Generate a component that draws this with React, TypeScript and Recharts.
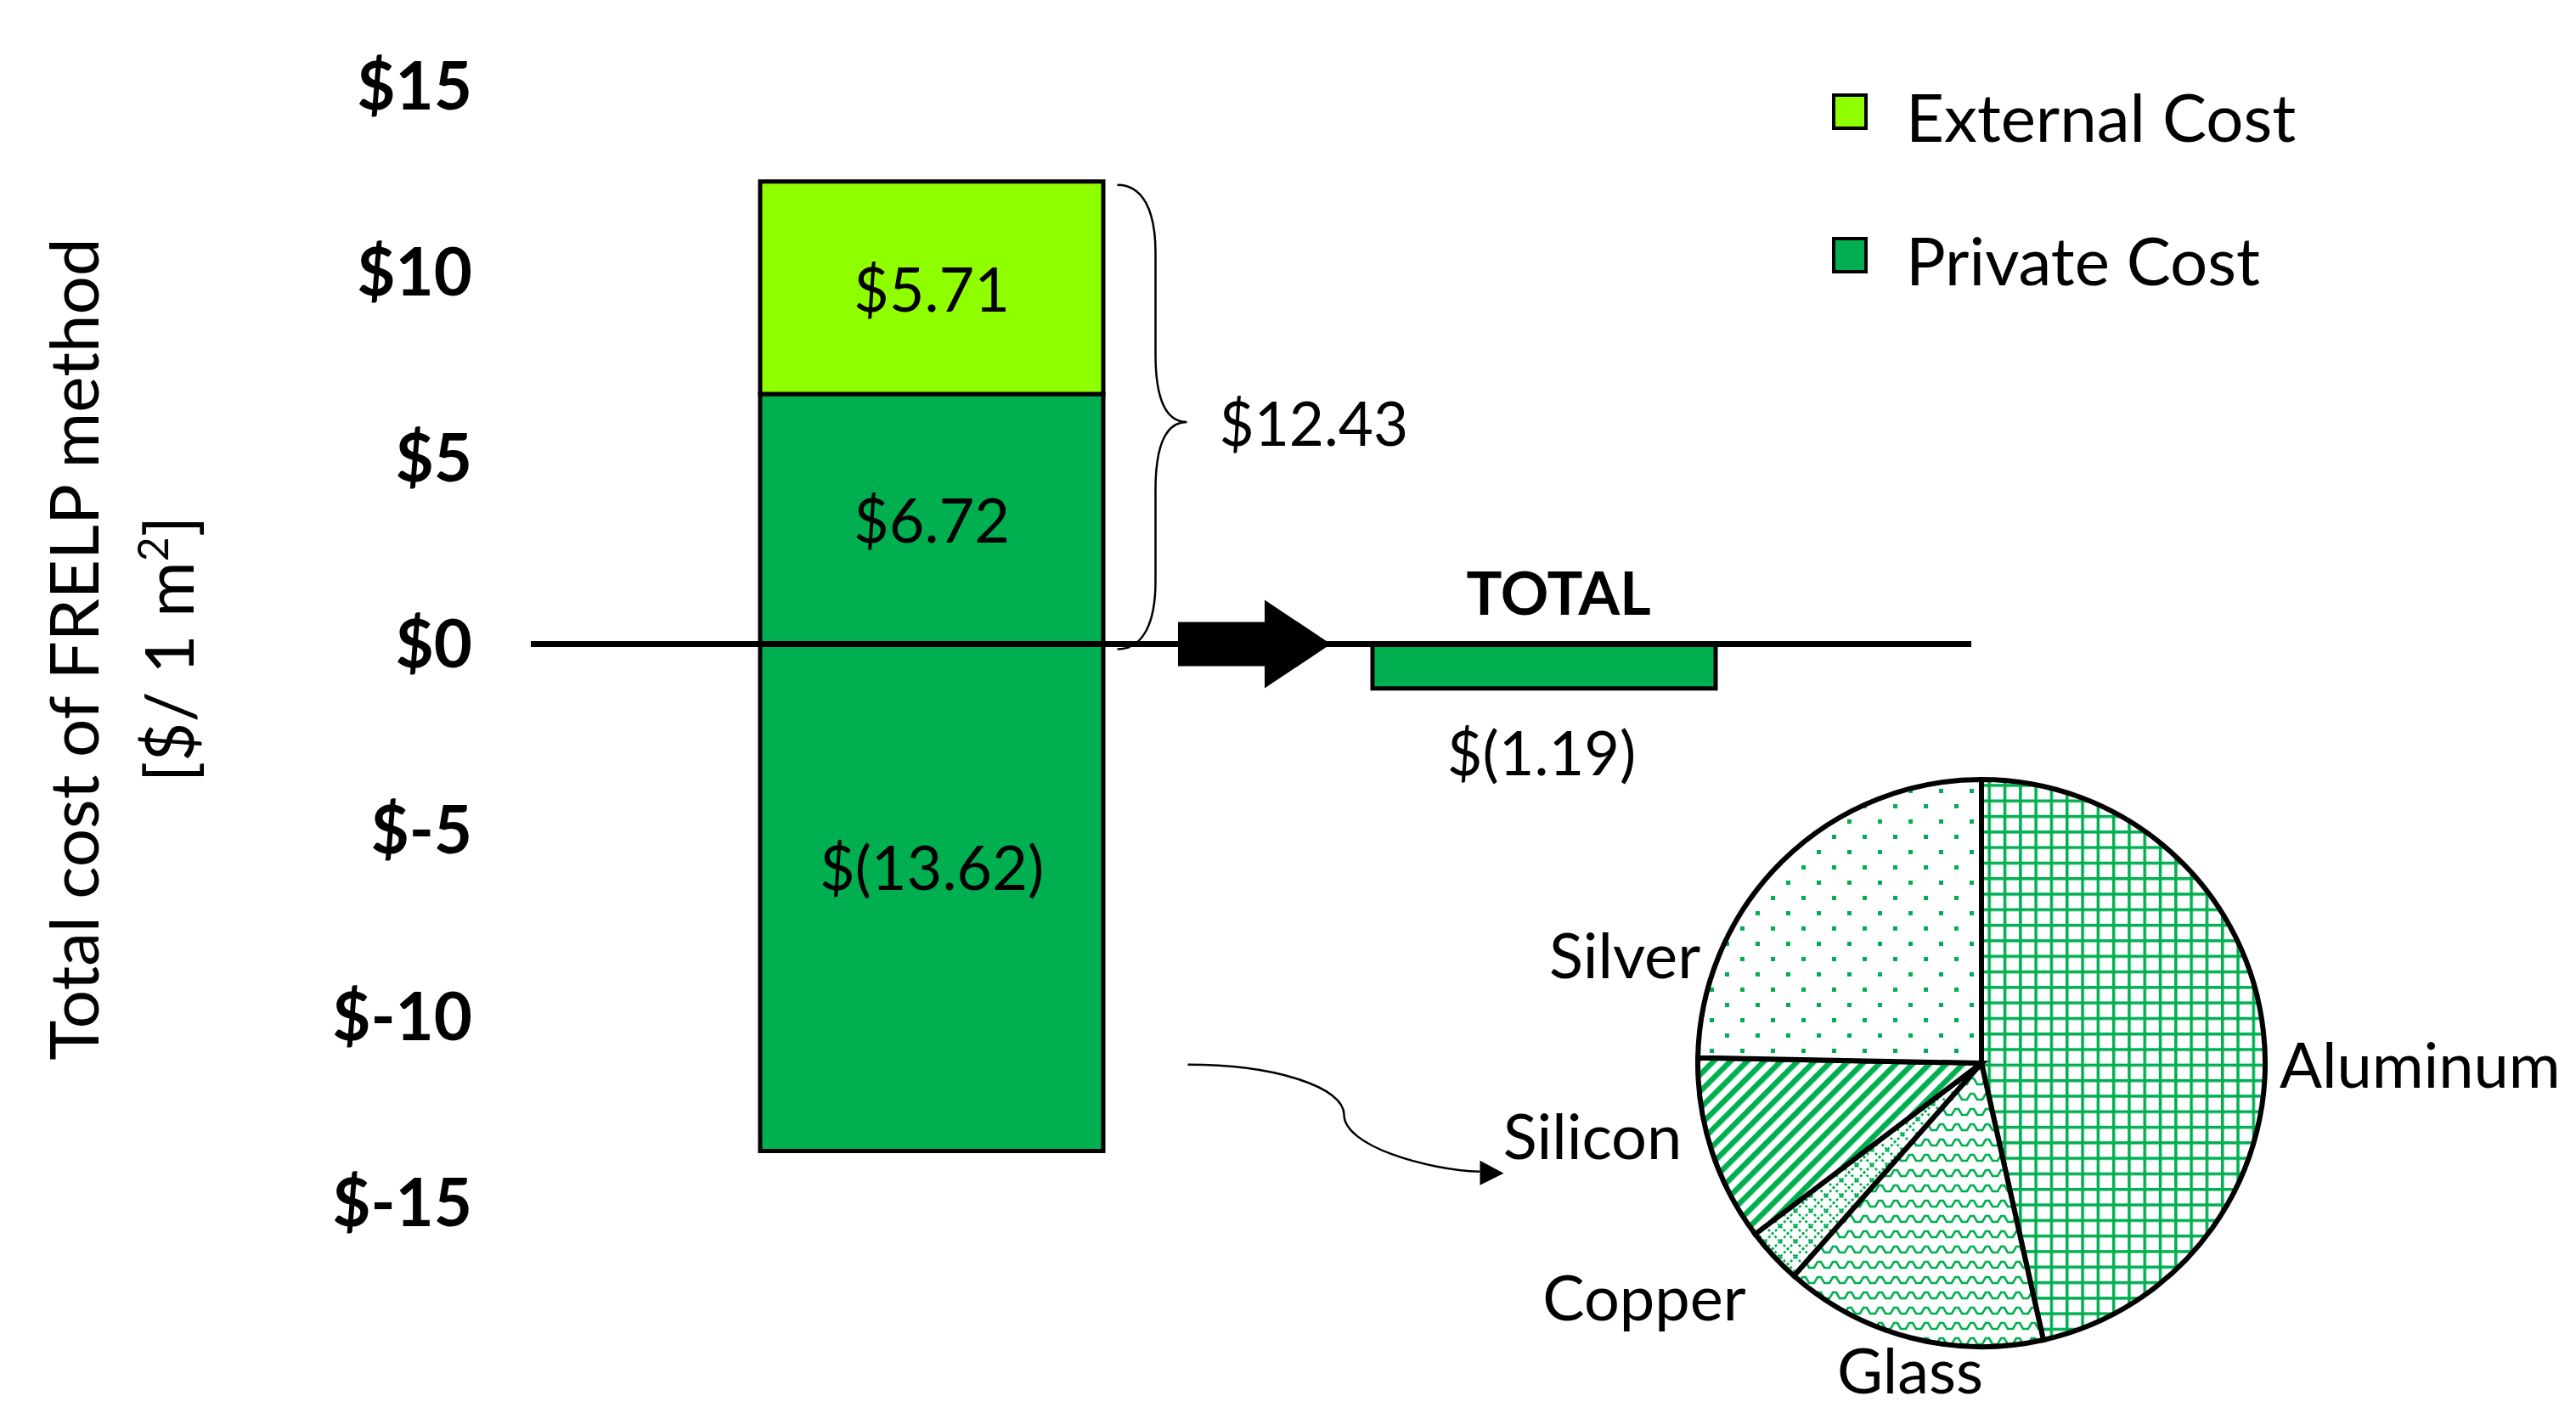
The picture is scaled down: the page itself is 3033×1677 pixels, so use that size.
import React from "react";
import {
  BarChart,
  Bar,
  XAxis,
  YAxis,
  Label,
  LabelList,
  Legend,
  ReferenceLine,
  ReferenceArea,
  PieChart,
  Pie,
  Cell,
} from "recharts";

// ─── Data ────────────────────────────────────────────────────────────────────

const CATEGORIES = ["FRELP", "TOTAL"];
const PRIVATE_COST = [6.72, 0];
const EXTERNAL_COST = [5.71, 0];
const PRIVATE_CREDIT = [-13.62, -1.19];
const Y_TICKS = [-15, -10, -5, 0, 5, 10, 15];
const LEGEND_ORDER = ["External Cost", "Private Cost"];

const MATERIALS = ["Aluminum", "Glass", "Copper", "Silicon", "Silver"];
const MATERIAL_SHARES = [46.5, 15.0, 3.2, 10.6, 24.7];
const MATERIAL_PATTERNS = ["patGrid", "patZigzag", "patLattice", "patStripes", "patDots"];

// ─── Style ───────────────────────────────────────────────────────────────────

const FONT = "Lato, 'Open Sans', sans-serif";
const GREEN = "#00B050";
const LIME = "#8FFF00";
const BAR_SIZE = 404;

// label spots around the pie, relative to its centre
const PIE_LABEL_POS: Record<string, { dx: number; dy: number; anchor: "start" | "middle" }> = {
  Aluminum: { dx: 351, dy: 0, anchor: "start" },
  Glass: { dx: -84, dy: 360, anchor: "middle" },
  Copper: { dx: -397, dy: 274, anchor: "middle" },
  Silicon: { dx: -458, dy: 84, anchor: "middle" },
  Silver: { dx: -420, dy: -129, anchor: "middle" },
};

const barData = CATEGORIES.map((name, i) => ({
  name,
  privateCost: PRIVATE_COST[i],
  externalCost: EXTERNAL_COST[i],
  privateCredit: PRIVATE_CREDIT[i],
}));

const pieData = MATERIALS.map((name, i) => ({ name, value: MATERIAL_SHARES[i] }));

const money = (v: number) => (v < 0 ? `$(${Math.abs(v).toFixed(2)})` : `$${v.toFixed(2)}`);

// ─── Pieces ──────────────────────────────────────────────────────────────────

function YTitle(props: any) {
  const vb = props.viewBox || { y: 0, height: 0 };
  const cy = vb.y + vb.height / 2 + 6;
  return (
    <g fontFamily={FONT} fontSize={80} fill="#000">
      <text x={116} y={cy} transform={`rotate(-90, 116, ${cy})`} textAnchor="middle">
        Total cost of FRELP method
      </text>
      <text x={228} y={cy} transform={`rotate(-90, 228, ${cy})`} textAnchor="middle">
        [$/ 1 m<tspan fontSize={50} dy={-30}>2</tspan>
        <tspan dy={30}>]</tspan>
      </text>
    </g>
  );
}

function InsideLabel(props: any) {
  const { x, y, width, height, value } = props;
  if (!value) return null;
  const top = Math.min(y, y + height);
  const bottom = Math.max(y, y + height);
  return (
    <text
      x={x + width / 2}
      y={(top + bottom) / 2}
      textAnchor="middle"
      dominantBaseline="central"
      fontFamily={FONT}
      fontSize={72}
      fill="#000"
    >
      {money(value)}
    </text>
  );
}

function CreditLabel(props: any) {
  const { x, y, width, height, value, index } = props;
  if (!value) return null;
  const top = Math.min(y, y + height);
  const bottom = Math.max(y, y + height);
  const cx = x + width / 2;
  if (CATEGORIES[index] === "TOTAL") {
    return (
      <g fontFamily={FONT} fill="#000" textAnchor="middle">
        <text x={cx + 17} y={top - 62} dominantBaseline="central" fontSize={70} fontWeight={700}>
          TOTAL
        </text>
        <text x={cx - 3} y={bottom + 74} dominantBaseline="central" fontSize={72}>
          {money(value)}
        </text>
      </g>
    );
  }
  return (
    <text
      x={cx}
      y={(top + bottom) / 2 - 37}
      textAnchor="middle"
      dominantBaseline="central"
      fontFamily={FONT}
      fontSize={72}
      fill="#000"
    >
      {money(value)}
    </text>
  );
}

// curly brace on the right of the first bar
function BraceShape(props: any) {
  const { x, y, width, height } = props;
  const x0 = x + width / 2 + BAR_SIZE / 2 + 17;
  const yT = y + 4;
  const yB = y + height + 6;
  const yM = (yT + yB) / 2 + 6;
  const arm = x0 + 45;
  const tip = x0 + 82;
  const d = [
    `M${x0},${yT}`,
    `C${x0 + 30},${yT} ${arm},${yT + 30} ${arm},${yT + 80}`,
    `L${arm},${yM - 80}`,
    `C${arm},${yM - 20} ${arm + 15},${yM} ${tip},${yM}`,
    `C${arm + 15},${yM} ${arm},${yM + 20} ${arm},${yM + 80}`,
    `L${arm},${yB - 80}`,
    `C${arm},${yB - 30} ${x0 + 30},${yB} ${x0},${yB}`,
  ].join(" ");
  const total = PRIVATE_COST[0] + EXTERNAL_COST[0];
  return (
    <g>
      <path d={d} fill="none" stroke="#000" strokeWidth={2.5} />
      <text
        x={x0 + 120}
        y={yM}
        dominantBaseline="central"
        fontFamily={FONT}
        fontSize={71}
        fill="#000"
      >
        {money(total)}
      </text>
    </g>
  );
}

// curved pointer from the negative part of the bar to the pie
function PointerShape(props: any) {
  const { x, y, width, height } = props;
  const sx = x + width / 2 + BAR_SIZE / 2 + 100;
  const sy = y + height / 2;
  const d = `M${sx},${sy} C${sx + 102},${sy} ${sx + 184},${sy + 26} ${sx + 184},${sy + 59} C${sx + 184},${sy + 96} ${sx + 282},${sy + 124} ${sx + 344},${sy + 126}`;
  return (
    <g>
      <path d={d} fill="none" stroke="#000" strokeWidth={2.5} />
      <polygon
        points={`${sx + 372},${sy + 128} ${sx + 344},${sy + 113} ${sx + 344},${sy + 142}`}
        fill="#000"
      />
    </g>
  );
}

function ArrowShape(props: any) {
  const { x, width, y, height } = props;
  const mx = x + width / 2;
  const my = y + height / 2;
  const pts = [
    [mx - 70, my - 26],
    [mx + 32, my - 26],
    [mx + 32, my - 52],
    [mx + 110, my],
    [mx + 32, my + 52],
    [mx + 32, my + 26],
    [mx - 70, my + 26],
  ]
    .map((p) => p.join(","))
    .join(" ");
  return <polygon points={pts} fill="#000" />;
}

function LegendBox(props: any) {
  const items = (props.payload || [])
    .filter((it: any) => LEGEND_ORDER.includes(it.value))
    .sort((a: any, b: any) => LEGEND_ORDER.indexOf(a.value) - LEGEND_ORDER.indexOf(b.value));
  return (
    <div style={{ fontFamily: FONT, fontSize: 78, color: "#000" }}>
      {items.map((it: any) => (
        <div key={it.value} style={{ display: "flex", alignItems: "center", height: 169 }}>
          <div
            style={{
              width: 34,
              height: 35,
              background: it.color,
              border: "4px solid #000",
              marginTop: -10,
            }}
          />
          <span style={{ marginLeft: 45, lineHeight: 1, whiteSpace: "nowrap" }}>{it.value}</span>
        </div>
      ))}
    </div>
  );
}

function PieLabel(props: any) {
  const { cx, cy, index } = props;
  const name = MATERIALS[index];
  const pos = PIE_LABEL_POS[name];
  return (
    <text
      x={cx + pos.dx}
      y={cy + pos.dy}
      textAnchor={pos.anchor}
      dominantBaseline="central"
      fontFamily={FONT}
      fontSize={74}
      fill="#000"
    >
      {name}
    </text>
  );
}

// ─── App ─────────────────────────────────────────────────────────────────────

export default function App() {
  return (
    <div
      style={{
        position: "absolute",
        left: 0,
        top: 0,
        width: 3033,
        height: 1677,
        background: "#fff",
        overflow: "hidden",
      }}
    >
      <div style={{ position: "absolute", left: 0, top: 0 }}>
        <BarChart
          width={3033}
          height={1677}
          data={barData}
          stackOffset="sign"
          margin={{ top: 101, right: 712, bottom: 261, left: 0 }}
        >
          <XAxis dataKey="name" hide padding={{ left: 111, right: 143 }} />
          <YAxis
            domain={[-15, 15]}
            ticks={Y_TICKS}
            tickFormatter={(v: number) => `$${v}`}
            axisLine={false}
            tickLine={false}
            tickSize={0}
            tickMargin={69}
            width={625}
            tick={{ fontFamily: FONT, fontSize: 78, fontWeight: 700, fill: "#000" }}
          >
            <Label content={YTitle} />
          </YAxis>
          <Legend
            layout="vertical"
            align="center"
            verticalAlign="middle"
            wrapperStyle={{ top: 52, left: 2157, width: 800, height: 340 }}
            content={LegendBox}
          />
          <Bar
            dataKey="privateCost"
            name="Private Cost"
            stackId="a"
            fill={GREEN}
            stroke="#000"
            strokeWidth={5}
            barSize={BAR_SIZE}
            isAnimationActive={false}
          >
            <LabelList dataKey="privateCost" content={InsideLabel} />
          </Bar>
          <Bar
            dataKey="externalCost"
            name="External Cost"
            stackId="a"
            fill={LIME}
            stroke="#000"
            strokeWidth={5}
            barSize={BAR_SIZE}
            isAnimationActive={false}
          >
            <LabelList dataKey="externalCost" content={InsideLabel} />
          </Bar>
          <Bar
            dataKey="privateCredit"
            name="Private Credit"
            legendType="none"
            stackId="a"
            fill={GREEN}
            stroke="#000"
            strokeWidth={5}
            barSize={BAR_SIZE}
            isAnimationActive={false}
          >
            <LabelList dataKey="privateCredit" content={CreditLabel} />
          </Bar>
          <ReferenceArea
            x1="FRELP"
            x2="FRELP"
            y1={0}
            y2={PRIVATE_COST[0] + EXTERNAL_COST[0]}
            shape={BraceShape}
          />
          <ReferenceArea x1="FRELP" x2="FRELP" y1={-11.4} y2={-11.2} shape={PointerShape} />
          <ReferenceArea x1="FRELP" x2="TOTAL" y1={-1} y2={1} shape={ArrowShape} />
          <ReferenceLine y={0} stroke="#000" strokeWidth={7} />
        </BarChart>
      </div>

      <div style={{ position: "absolute", left: 1700, top: 850 }}>
        <PieChart width={1333} height={827}>
          <defs>
            <pattern id="patGrid" patternUnits="userSpaceOnUse" width={18.3} height={18.3}>
              <rect width={18.3} height={18.3} fill="#fff" />
              <rect width={18.3} height={3.5} fill={GREEN} />
              <rect width={3.5} height={18.3} fill={GREEN} />
            </pattern>
            <pattern id="patZigzag" patternUnits="userSpaceOnUse" width={18} height={18}>
              <rect width={18} height={18} fill="#fff" />
              <path
                d="M0,13 L4,13 L8,6 L12,6 L16,13 L18,13"
                fill="none"
                stroke={GREEN}
                strokeWidth={2.6}
              />
            </pattern>
            <pattern id="patLattice" patternUnits="userSpaceOnUse" width={18} height={18}>
              <rect width={18} height={18} fill="#fff" />
              <path
                d="M0,0 L18,18 M18,0 L0,18"
                fill="none"
                stroke={GREEN}
                strokeWidth={2.6}
                strokeDasharray="3 2.5"
              />
            </pattern>
            <pattern
              id="patStripes"
              patternUnits="userSpaceOnUse"
              width={14}
              height={14}
              patternTransform="rotate(45)"
            >
              <rect width={14} height={14} fill="#fff" />
              <rect width={6.5} height={14} fill={GREEN} />
            </pattern>
            <pattern id="patDots" patternUnits="userSpaceOnUse" width={36} height={36}>
              <rect width={36} height={36} fill="#fff" />
              <rect x={7} y={7} width={5} height={5} fill={GREEN} />
              <rect x={25} y={25} width={5} height={5} fill={GREEN} />
            </pattern>
          </defs>
          <Pie
            data={pieData}
            dataKey="value"
            nameKey="name"
            cx={628}
            cy={397}
            outerRadius={334}
            startAngle={90}
            endAngle={-270}
            stroke="#000"
            strokeWidth={6}
            label={PieLabel}
            labelLine={false}
            isAnimationActive={false}
          >
            {pieData.map((d, i) => (
              <Cell key={d.name} fill={`url(#${MATERIAL_PATTERNS[i]})`} stroke="#000" strokeWidth={6} />
            ))}
          </Pie>
        </PieChart>
      </div>
    </div>
  );
}
